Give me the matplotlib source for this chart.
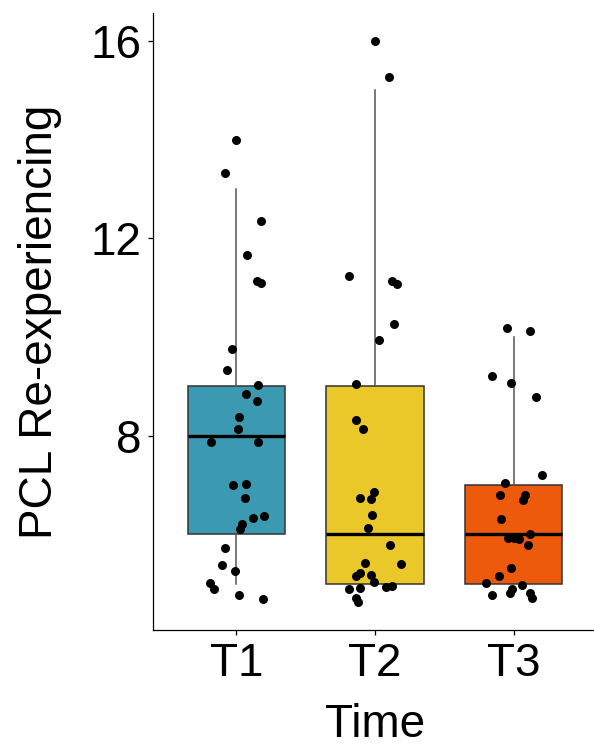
import matplotlib
matplotlib.use("Agg")
import matplotlib.pyplot as plt
import numpy as np

plt.rcParams['font.family'] = ['Liberation Sans', 'DejaVu Sans']

# groups and box colours
times = ['T1', 'T2', 'T3']
colors = ['#3B9AB2', '#EBC82A', '#EE5A0C']

# box statistics
q1 = [6, 5, 5]
med = [8, 6, 6]
q3 = [9, 9, 7]
whis_lo = [5, 5, 5]
whis_hi = [13, 15, 10]

# jittered points: horizontal offset from the group centre, value
t1_dx = [0.00, -0.08, 0.18, 0.08, 0.15, 0.18, -0.03, -0.07, 0.16, 0.07, 0.15,
         0.02, 0.01, -0.18, 0.16, -0.02, 0.07, 0.06, 0.12, 0.20, 0.04, 0.03,
         -0.08, -0.10, -0.01, -0.19, -0.16, 0.02, 0.19]
t1_y = [14.0, 13.33, 12.34, 11.66, 11.13, 11.09, 9.75, 9.32, 9.02, 8.85, 8.71,
        8.37, 8.14, 7.88, 7.86, 6.99, 7.02, 6.73, 6.32, 6.37, 6.20, 6.10,
        5.72, 5.38, 5.25, 5.02, 4.89, 4.76, 4.69]

t2_dx = [0.00, 0.10, -0.19, 0.12, 0.16, 0.14, 0.03, -0.14, -0.14, -0.09,
         -0.11, -0.03, -0.01, -0.02, -0.05, 0.11, 0.19, -0.07, -0.11, -0.14,
         -0.03, -0.01, 0.08, 0.12, -0.19, -0.11, -0.14, -0.12]
t2_y = [16.0, 15.27, 11.23, 11.13, 11.07, 10.26, 9.94, 9.05, 8.32, 8.14,
        6.74, 6.72, 6.86, 6.40, 6.12, 5.79, 5.39, 5.41, 5.21, 5.16,
        5.18, 5.04, 4.94, 4.96, 4.89, 4.92, 4.71, 4.63]

t3_dx = [-0.05, 0.12, -0.16, -0.02, 0.16, 0.20, -0.06, -0.10, 0.08, 0.07,
         -0.09, -0.04, 0.04, 0.12, 0.10, 0.00, -0.02, -0.11, -0.20, 0.06,
         -0.01, -0.03, 0.12, -0.16, 0.13]
t3_y = [10.19, 10.11, 9.20, 9.06, 8.79, 7.21, 7.04, 6.79, 6.79, 6.69,
        6.30, 5.92, 5.91, 6.00, 5.78, 5.93, 5.31, 5.15, 5.02, 4.97,
        4.89, 4.82, 4.82, 4.77, 4.70]

fig = plt.figure(figsize=(5.94, 7.51), dpi=100)
ax = fig.add_axes([0.2576, 0.1611, 0.7475, 0.822])

stats = []
for i, t in enumerate(times):
    stats.append(dict(label=t, q1=q1[i], med=med[i], q3=q3[i],
                      whislo=whis_lo[i], whishi=whis_hi[i], fliers=[]))

bp = ax.bxp(stats, positions=[1, 2, 3], widths=0.7, patch_artist=True,
            showcaps=False,
            boxprops=dict(edgecolor='#333333', linewidth=1.1),
            whiskerprops=dict(color='#555555', linewidth=1.1),
            medianprops=dict(color='black', linewidth=2.4))
for patch, c in zip(bp['boxes'], colors):
    patch.set_facecolor(c)

for i, (dx, y) in enumerate([(t1_dx, t1_y), (t2_dx, t2_y), (t3_dx, t3_y)]):
    ax.scatter(np.array(dx) + i + 1, y, s=42, color='black', zorder=3,
               linewidths=0)

ax.set_xlim(0.4, 3.6)
ax.set_ylim(4.06, 16.57)
ax.set_yticks([8, 12, 16])
ax.set_xticks([1, 2, 3])
ax.set_xticklabels(times)

ax.spines['top'].set_visible(False)
ax.spines['right'].set_visible(False)
for s in ['left', 'bottom']:
    ax.spines[s].set_linewidth(0.9)
ax.tick_params(axis='both', labelsize=33, length=3.6, width=0.9,
               colors='black', pad=5)

ax.set_xlabel('Time', fontsize=33)
ax.set_ylabel('PCL Re-experiencing', fontsize=33)
ax.xaxis.set_label_coords(0.5, -0.118)
ax.yaxis.set_label_coords(-0.205, 0.5)

fig.savefig('out.png', dpi=100)
